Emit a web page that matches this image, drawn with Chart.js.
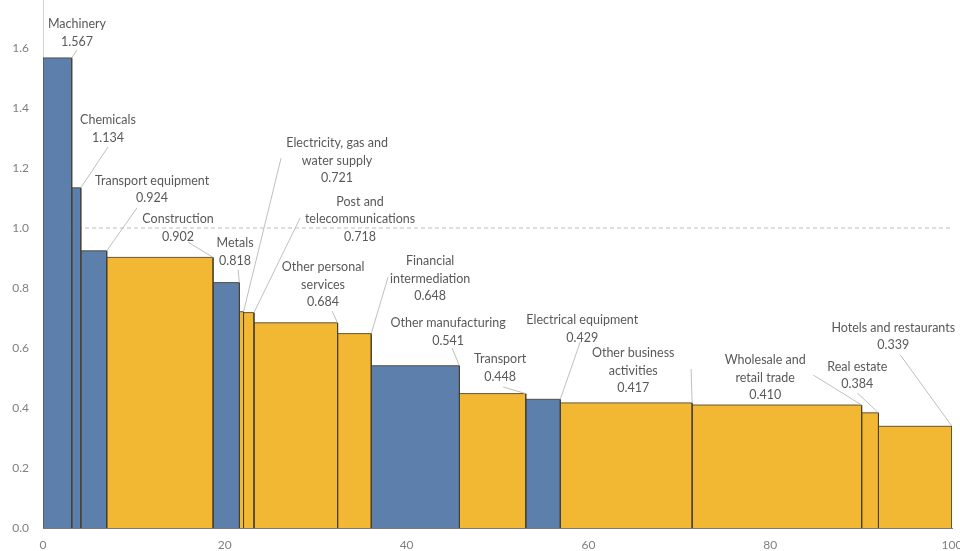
<!DOCTYPE html>
<html>
<head>
<meta charset="utf-8">
<script src="https://cdn.jsdelivr.net/npm/chart.js@4"></script>
<style>
  html, body { margin: 0; padding: 0; background: #ffffff; }
  #wrap { width: 960px; height: 551px; position: relative; }
</style>
</head>
<body>
<div id="wrap"><canvas id="chart" width="960" height="551"></canvas></div>
<script>
// Sector names (one entry per text line), share of the total (bar width, %),
// intensity value (bar height) and sector group.
const sectors = [
  ["Machinery"],
  ["Chemicals"],
  ["Transport equipment"],
  ["Construction"],
  ["Metals"],
  ["Electricity, gas and", "water supply"],
  ["Post and", "telecommunications"],
  ["Other personal", "services"],
  ["Financial", "intermediation"],
  ["Other manufacturing"],
  ["Transport"],
  ["Electrical equipment"],
  ["Other business", "activities"],
  ["Wholesale and", "retail trade"],
  ["Real estate"],
  ["Hotels and restaurants"]
];
const shares = [3.16, 1.0, 2.85, 11.7, 2.9, 0.45, 1.15, 9.2, 3.7, 9.7, 7.3, 3.8, 14.5, 18.65, 1.85, 8.09];
const values = [1.567, 1.134, 0.924, 0.902, 0.818, 0.721, 0.718, 0.684, 0.648, 0.541, 0.448, 0.429, 0.417, 0.410, 0.384, 0.339];
const groups = ["manufacturing", "manufacturing", "manufacturing", "services", "manufacturing", "services", "services", "services", "services", "manufacturing", "services", "manufacturing", "services", "services", "services", "services"];
const referenceLevel = 1.0;
const xTicks = [0, 20, 40, 60, 80, 100];
const yTicks = [0, 0.2, 0.4, 0.6, 0.8, 1.0, 1.2, 1.4, 1.6];

// Label placement in axis units: text anchor (centre of first line) and leader start.
const labelAt = [
  { x: 3.74, y: 1.680, lx: 3.74, ly: 1.593 },
  { x: 7.15, y: 1.360, lx: 7.15, ly: 1.270 },
  { x: 12.0, y: 1.157, lx: 10.34, ly: 1.067 },
  { x: 14.86, y: 1.030, lx: 15.96, ly: 0.953 },
  { x: 21.13, y: 0.950, lx: 21.46, ly: 0.860 },
  { x: 32.35, y: 1.283, lx: 26.19, ly: 1.233 },
  { x: 34.88, y: 1.087, lx: 28.28, ly: 1.033 },
  { x: 30.81, y: 0.870, lx: 31.80, ly: 0.723 },
  { x: 42.59, y: 0.890, lx: 37.97, ly: 0.837 },
  { x: 44.57, y: 0.683, lx: 45.00, ly: 0.600 },
  { x: 50.29, y: 0.563, lx: 50.62, ly: 0.470 },
  { x: 59.32, y: 0.693, lx: 59.10, ly: 0.620 },
  { x: 64.93, y: 0.583, lx: 71.30, ly: 0.530 },
  { x: 79.45, y: 0.560, lx: 84.74, ly: 0.510 },
  { x: 89.58, y: 0.537, lx: 89.58, ly: 0.450 },
  { x: 93.54, y: 0.667, lx: 94.31, ly: 0.577 }
];

const palette = { manufacturing: "#5c7fac", services: "#f2b733" };
const FONT = "Lato, 'Open Sans', sans-serif";

// Left/right edges of each bar from the cumulative shares.
const starts = [];
const ends = [];
let acc = 0;
shares.forEach(w => { starts.push(acc); acc += w; ends.push(acc); });

const barSets = values.map((v, i) => ({
  data: [
    { x: starts[i], y: 0 },
    { x: starts[i], y: v },
    { x: ends[i], y: v },
    { x: ends[i], y: 0 }
  ],
  backgroundColor: palette[groups[i]],
  borderColor: "rgba(72,64,48,0.85)",
  borderWidth: 1,
  fill: "origin",
  pointRadius: 0,
  tension: 0,
  order: 1
}));

const refLine = {
  data: [{ x: 0, y: referenceLevel }, { x: 100, y: referenceLevel }],
  borderColor: "#bdbdbd",
  borderWidth: 1,
  borderDash: [4, 3],
  fill: false,
  pointRadius: 0,
  order: 100,
  clip: false
};

const labelPlugin = {
  id: "sectorLabels",
  beforeDatasetsDraw(chart) {
    const { ctx, chartArea } = chart;
    ctx.save();
    ctx.strokeStyle = "#d4d4d4";
    ctx.lineWidth = 1;
    ctx.beginPath();
    ctx.moveTo(chartArea.left + 0.5, 0);
    ctx.lineTo(chartArea.left + 0.5, chartArea.bottom);
    ctx.stroke();
    ctx.restore();
  },
  afterDatasetsDraw(chart) {
    const { ctx, scales } = chart;
    const xs = scales.x, ys = scales.y;
    ctx.save();
    values.forEach((v, i) => {
      const L = labelAt[i];
      // leader line to the top-right corner of the bar
      ctx.strokeStyle = "#bfbfbf";
      ctx.lineWidth = 1;
      ctx.beginPath();
      ctx.moveTo(xs.getPixelForValue(L.lx), ys.getPixelForValue(L.ly));
      ctx.lineTo(xs.getPixelForValue(ends[i]), ys.getPixelForValue(v));
      ctx.stroke();

      const lines = sectors[i].concat([v.toFixed(3)]);
      const cx = xs.getPixelForValue(L.x);
      const cy = ys.getPixelForValue(L.y);
      ctx.font = "12.5px " + FONT;
      ctx.fillStyle = "#595959";
      ctx.textAlign = "center";
      ctx.textBaseline = "middle";
      lines.forEach((t, k) => ctx.fillText(t, cx, cy + k * 17.5));
    });
    ctx.restore();
  }
};

new Chart(document.getElementById("chart"), {
  type: "line",
  data: { datasets: barSets.concat([refLine]) },
  options: {
    responsive: false,
    animation: false,
    events: [],
    layout: { padding: { top: 48, right: 0, left: 0, bottom: 0 } },
    plugins: { legend: { display: false }, tooltip: { enabled: false }, title: { display: false } },
    scales: {
      x: {
        type: "linear",
        min: 0,
        max: 100,
        afterBuildTicks: s => { s.ticks = xTicks.map(v => ({ value: v })); },
        afterFit: s => { s.height = 23; s.paddingRight = 8; s.paddingLeft = 0; },
        ticks: { color: "#808080", font: { family: FONT, size: 12 }, padding: 10, maxRotation: 0, callback: v => String(v) },
        grid: { display: false, drawTicks: false },
        border: { display: true, color: "#7a7a7a" }
      },
      y: {
        min: 0,
        max: 1.6,
        afterBuildTicks: s => { s.ticks = yTicks.map(v => ({ value: v })); },
        afterFit: s => { s.width = 43; },
        ticks: { color: "#808080", font: { family: FONT, size: 12 }, padding: 14, callback: v => Number(v).toFixed(1) },
        grid: { display: false, drawTicks: false },
        border: { display: false }
      }
    }
  },
  plugins: [labelPlugin]
});
</script>
</body>
</html>
